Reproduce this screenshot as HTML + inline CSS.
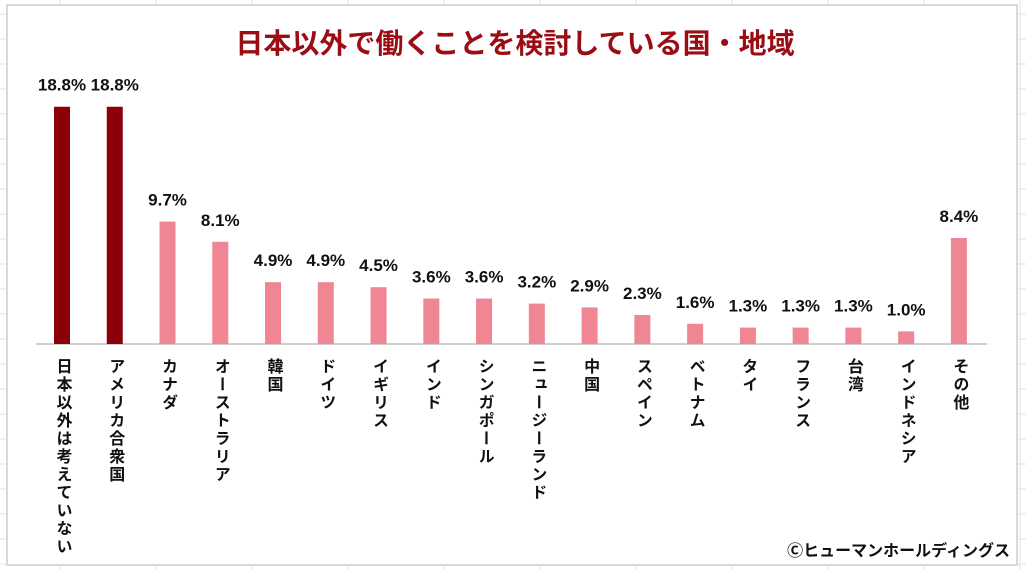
<!DOCTYPE html>
<html><head><meta charset="utf-8"><style>
body{margin:0;width:1026px;height:570px;overflow:hidden;background:#fff;font-family:"Liberation Sans","Noto Sans CJK JP",sans-serif}
#grid{position:absolute;left:0;top:0}
#chart{position:absolute;left:6px;top:4px;width:1012px;height:562px;background:#fff;border:2px solid #d9d9d9;box-sizing:border-box}
</style></head><body>
<svg id="grid" width="1026" height="570"></svg>
<div id="chart"></div>
<svg id="plot" width="1026" height="570" style="position:absolute;left:0;top:0">
<text x="515" y="53" text-anchor="middle" font-size="28" font-weight="bold" fill="#9b0d14">日本以外で働くことを検討している国・地域</text>
<line x1="36" y1="344" x2="987" y2="344" stroke="#bfbfbf" stroke-width="1.5"/>
<g id="bars"></g>
<text x="1010" y="556" text-anchor="end" font-size="16" font-weight="bold" fill="#111">Ⓒヒューマンホールディングス</text>
</svg>
<script>
const categories=["日本以外は考えていない","アメリカ合衆国","カナダ","オーストラリア","韓国","ドイツ","イギリス","インド","シンガポール","ニュージーランド","中国","スペイン","ベトナム","タイ","フランス","台湾","インドネシア","その他"];
const values=[18.8,18.8,9.7,8.1,4.9,4.9,4.5,3.6,3.6,3.2,2.9,2.3,1.6,1.3,1.3,1.3,1.0,8.4];
const valueLabels=["18.8%","18.8%","9.7%","8.1%","4.9%","4.9%","4.5%","3.6%","3.6%","3.2%","2.9%","2.3%","1.6%","1.3%","1.3%","1.3%","1.0%","8.4%"];
const NS="http://www.w3.org/2000/svg";
const g=document.getElementById('grid');
for(let y=14;y<570;y+=25){const l=document.createElementNS(NS,'line');l.setAttribute('x1',0);l.setAttribute('x2',1026);l.setAttribute('y1',y);l.setAttribute('y2',y);l.setAttribute('stroke','#e0e0e0');

g.appendChild(l);}
for(let x=60;x<1026;x+=96){const l=document.createElementNS(NS,'line');l.setAttribute('x1',x);l.setAttribute('x2',x);l.setAttribute('y1',0);l.setAttribute('y2',570);l.setAttribute('stroke','#e0e0e0');

g.appendChild(l);}
const base=344, scale=12.62;
const xc=i=>62+i*52.76;
const yv=v=>base-v*scale;
const b=document.getElementById('bars');
categories.forEach((c,i)=>{
 const r=document.createElementNS(NS,'rect');
 r.setAttribute('x',xc(i)-8);r.setAttribute('width',16);
 r.setAttribute('y',yv(values[i]));r.setAttribute('height',base-yv(values[i]));
 r.setAttribute('fill',i<2?'#8b0009':'#f08593');
 
 
 b.appendChild(r);
 const t=document.createElementNS(NS,'text');
 t.setAttribute('x',xc(i));t.setAttribute('y',yv(values[i])-16);
 t.setAttribute('text-anchor','middle');t.setAttribute('font-size','17');t.setAttribute('font-weight','bold');t.setAttribute('fill','#111');
 t.textContent=valueLabels[i];
 
 
 b.appendChild(t);
 const ct=document.createElementNS(NS,'text');
 ct.setAttribute('x',xc(i));ct.setAttribute('y',358);
 ct.setAttribute('writing-mode','tb');ct.setAttribute('style','writing-mode:vertical-rl;letter-spacing:2px');
 ct.setAttribute('font-size','16');ct.setAttribute('font-weight','bold');ct.setAttribute('fill','#111');
 ct.textContent=c;
 
 
 b.appendChild(ct);
});
</script>
</body></html>
